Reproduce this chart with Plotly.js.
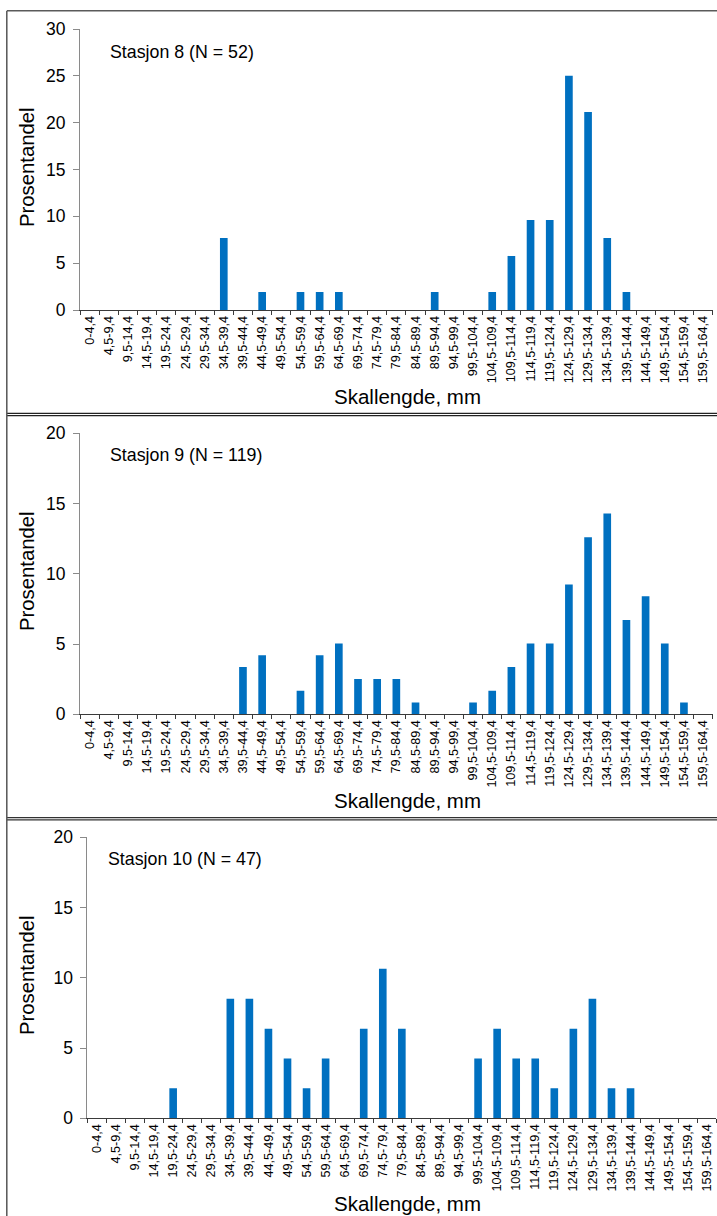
<!DOCTYPE html>
<html>
<head>
<meta charset="utf-8">
<script src="https://cdn.plot.ly/plotly-3.0.1.min.js"></script>
<style>
html,body{margin:0;padding:0;background:#fff;}
#chart{width:717px;height:1216px;}
</style>
</head>
<body>
<div id="chart"></div>
<script>
// ---- data ----
const categories = ["0-4,4","4,5-9,4","9,5-14,4","14,5-19,4","19,5-24,4","24,5-29,4","29,5-34,4",
  "34,5-39,4","39,5-44,4","44,5-49,4","49,5-54,4","54,5-59,4","59,5-64,4","64,5-69,4",
  "69,5-74,4","74,5-79,4","79,5-84,4","84,5-89,4","89,5-94,4","94,5-99,4","99,5-104,4",
  "104,5-109,4","109,5-114,4","114,5-119,4","119,5-124,4","124,5-129,4","129,5-134,4",
  "134,5-139,4","139,5-144,4","144,5-149,4","149,5-154,4","154,5-159,4","159,5-164,4"];

const station8 = [0,0,0,0,0,0,0, 7.69,0,1.92,0,1.92,1.92,1.92, 0,0,0,0,1.92,0,0,
  1.92,5.77,9.62,9.62,25.0,21.15, 7.69,1.92,0,0,0,0];
const station9 = [0,0,0,0,0,0,0, 0,3.36,4.20,0,1.68,4.20,5.04, 2.52,2.52,2.52,0.84,0,0,0.84,
  1.68,3.36,5.04,5.04,9.24,12.61, 14.29,6.72,8.40,5.04,0.84,0];
const station10 = [0,0,0,0,2.13,0,0, 8.51,8.51,6.38,4.26,2.13,4.26,0, 6.38,10.64,6.38,0,0,0,4.26,
  6.38,4.26,4.26,2.13,6.38,8.51, 2.13,2.13,0,0,0,0];

const panelLabels = ["Stasjon 8 (N = 52)", "Stasjon 9 (N = 119)", "Stasjon 10 (N = 47)"];
const yTitle = "Prosentandel";
const xTitle = "Skallengde, mm";

// ---- layout helpers (pixel -> paper) ----
const W = 717, H = 1216;
const px = x => x / W;
const py = y => 1 - y / H;

const FONT = "Liberation Sans, Arial, sans-serif";
const barColor = "#0070C0";

function barTrace(vals, xa, ya) {
  return {
    type: "bar", x: categories, y: vals, xaxis: xa, yaxis: ya,
    marker: {color: barColor, line: {width: 0}},
    hoverinfo: "x+y", showlegend: false
  };
}

function xAxis(x0, x1, anchor) {
  return {
    domain: [px(x0), px(x1)], anchor: anchor,
    type: "category", range: [-0.5, categories.length - 0.5],
    showline: true, linecolor: "#3a3a3a", linewidth: 1,
    ticks: "outside", tickson: "boundaries", ticklen: 4, tickcolor: "#3a3a3a", tickwidth: 1,
    tickangle: -90, tickfont: {family: FONT, size: 12.6, color: "#000"},
    showgrid: false, zeroline: false, fixedrange: true, automargin: false
  };
}
function yAxis(y0px, ytopPx, maxv, anchor) {
  return {
    domain: [py(y0px), py(ytopPx)], anchor: anchor,
    range: [0, maxv], dtick: 5, tick0: 0,
    showline: true, linecolor: "#8a8a8a", linewidth: 1,
    ticks: "outside", ticklen: 6, tickcolor: "#8a8a8a", tickwidth: 1,
    ticklabelstandoff: 4,
    tickfont: {family: FONT, size: 17.5, color: "#000"},
    showgrid: false, zeroline: false, fixedrange: true, automargin: false
  };
}

const data = [
  barTrace(station8, "x", "y"),
  barTrace(station9, "x2", "y2"),
  barTrace(station10, "x3", "y3")
];

// panel geometry in pixels
const panels = [
  {x0: 80,   x1: 712.7, y0: 310,    yTop: 29,    max: 30, label: [108, 52],  ytitle: [27, 167], xtitle: [407, 397]},
  {x0: 80,   x1: 712.7, y0: 714.3,  yTop: 433.3, max: 20, label: [108, 455], ytitle: [27, 571], xtitle: [407, 800]},
  {x0: 87.4, x1: 716.3, y0: 1118.3, yTop: 837.3, max: 20, label: [106, 859], ytitle: [27, 975], xtitle: [407, 1203]}
];

const layout = {
  width: W, height: H,
  margin: {l: 0, r: 0, t: 0, b: 0, pad: 0},
  paper_bgcolor: "#fff", plot_bgcolor: "rgba(0,0,0,0)",
  bargap: 0.6,
  showlegend: false,
  font: {family: FONT, color: "#000"},
  xaxis: xAxis(panels[0].x0, panels[0].x1, "y"),
  yaxis: yAxis(panels[0].y0, panels[0].yTop, panels[0].max, "x"),
  xaxis2: xAxis(panels[1].x0, panels[1].x1, "y2"),
  yaxis2: yAxis(panels[1].y0, panels[1].yTop, panels[1].max, "x2"),
  xaxis3: xAxis(panels[2].x0, panels[2].x1, "y3"),
  yaxis3: yAxis(panels[2].y0, panels[2].yTop, panels[2].max, "x3"),
  annotations: [],
  shapes: []
};

panels.forEach((p, i) => {
  layout.annotations.push({
    xref: "paper", yref: "paper", x: px(p.label[0]), y: py(p.label[1]),
    xanchor: "left", yanchor: "middle", showarrow: false,
    text: panelLabels[i], font: {family: FONT, size: 17.8, color: "#000"}
  });
  layout.annotations.push({
    xref: "paper", yref: "paper", x: px(p.ytitle[0]), y: py(p.ytitle[1]),
    xanchor: "center", yanchor: "middle", showarrow: false, textangle: -90,
    text: yTitle, font: {family: FONT, size: 20.3, color: "#000"}
  });
  layout.annotations.push({
    xref: "paper", yref: "paper", x: px(p.xtitle[0]), y: py(p.xtitle[1]),
    xanchor: "center", yanchor: "middle", showarrow: false,
    text: xTitle, font: {family: FONT, size: 20.5, color: "#000"}
  });
});

// panel borders
function hline(y, col, w) {
  return {type: "line", xref: "paper", yref: "paper", x0: px(7), x1: 1.01, y0: py(y), y1: py(y),
          line: {color: col, width: w}};
}
layout.shapes.push(hline(10.7, "#5a5a5a", 1.5));
layout.shapes.push(hline(413.3, "#222", 1.3));
layout.shapes.push(hline(415.6, "#222", 1.3));
layout.shapes.push(hline(817.7, "#333", 1.3));
layout.shapes.push(hline(819.9, "#333", 1.3));
layout.shapes.push({type: "line", xref: "paper", yref: "paper", x0: px(6.8), x1: px(6.8),
  y0: py(10.7), y1: -0.01, line: {color: "#555", width: 1.5}});

Plotly.newPlot("chart", data, layout, {staticPlot: true, displayModeBar: false});
</script>
</body>
</html>
